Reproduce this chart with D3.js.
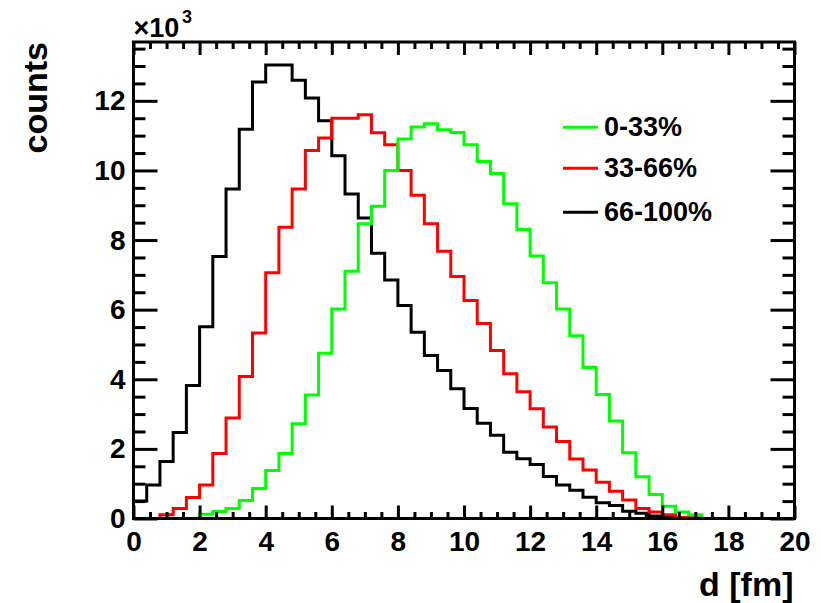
<!DOCTYPE html>
<html>
<head>
<meta charset="utf-8">
<script src="https://cdn.jsdelivr.net/npm/d3@7"></script>
<style>
  body { margin: 0; background: #fff; }
  text { font-family: "Liberation Sans", Arial, Helvetica, sans-serif; font-weight: bold; fill: #000; }
</style>
</head>
<body>
<div class="chart"></div>
<script>
/* bin layout: 50 bins of 0.4 fm from 0 to 20 */
const binWidth = 0.4;

/* counts per bin, in thousands */
const central = [ // 0-33%
  0, 0, 0, 0, 0, 0.12, 0.20, 0.29, 0.52, 0.86,
  1.38, 1.87, 2.72, 3.55, 4.75, 6.02, 7.10, 8.47, 8.97, 10.00,
  10.90, 11.25, 11.34, 11.17, 11.09, 10.74, 10.26, 9.91, 9.04, 8.30,
  7.54, 6.77, 6.02, 5.25, 4.34, 3.56, 2.80, 1.89, 1.20, 0.69,
  0.35, 0.19, 0.11, 0, 0, 0, 0, 0, 0, 0
];
const midCentral = [ // 33-66%
  0, 0, 0.11, 0.29, 0.60, 0.96, 1.87, 2.89, 4.08, 5.33,
  7.06, 8.37, 9.47, 10.57, 10.93, 11.50, 11.50, 11.60, 11.08, 10.74,
  10.00, 9.29, 8.47, 7.68, 6.95, 6.26, 5.60, 4.83, 4.16, 3.64,
  3.15, 2.63, 2.21, 1.71, 1.39, 1.04, 0.78, 0.53, 0.29, 0.19,
  0.11, 0.03, 0.02, 0, 0, 0, 0, 0, 0, 0
];
const peripheral = [ // 66-100%
  0.50, 0.96, 1.64, 2.47, 3.82, 5.51, 7.53, 9.47, 11.18, 12.54,
  13.03, 13.03, 12.59, 12.08, 11.43, 10.42, 9.32, 8.63, 7.62, 6.85,
  6.12, 5.35, 4.68, 4.25, 3.73, 3.16, 2.74, 2.39, 1.90, 1.72,
  1.55, 1.21, 0.96, 0.81, 0.61, 0.45, 0.37, 0.21, 0.15, 0.07,
  0.03, 0.01, 0, 0, 0, 0, 0, 0, 0, 0
];

const seriesNames = ["0-33%", "33-66%", "66-100%"];
const seriesColors = ["#00ff00", "#ff0000", "#000000"];
const xTicks = [0, 2, 4, 6, 8, 10, 12, 14, 16, 18, 20];
const yTicks = [0, 2, 4, 6, 8, 10, 12];

/* svg setup */
const width = 821;
const height = 603;
const margin = {top: 42, right: 26.5, bottom: 84.5, left: 133.5};

const svg = d3.select(".chart").append("svg")
  .attr("width", width)
  .attr("height", height);

const x = d3.scaleLinear()
  .domain([0, 20])
  .range([margin.left, width - margin.right]);

const y = d3.scaleLinear()
  .domain([0, 13.69])
  .range([height - margin.bottom, margin.top]);

/* histograms: black first, green on top */
const stepLine = d3.line()
  .x(d => x(d[0]))
  .y(d => y(d[1]))
  .curve(d3.curveStepAfter);

function outline(values) {
  const pts = [[0, 0]];
  values.forEach((v, i) => pts.push([i * binWidth, v]));
  pts.push([values.length * binWidth, 0]);
  return pts;
}

const hists = [central, midCentral, peripheral];
[2, 1, 0].forEach(k => {
  svg.append("path")
    .datum(outline(hists[k]))
    .attr("d", stepLine)
    .attr("fill", "none")
    .attr("stroke", seriesColors[k])
    .attr("stroke-width", 3);
});

/* ticks on all four sides, pointing inward */
const xMinor = d3.range(0, 20.01, 0.5).filter(v => v % 2 !== 0);
const yMinor = d3.range(0, 13.6, 0.5).filter(v => v % 2 !== 0);
const bottomY = height - margin.bottom;
const rightX = width - margin.right;

function drawAxis(axis, tx, ty) {
  const g = svg.append("g")
    .attr("transform", `translate(${tx},${ty})`)
    .call(axis);
  g.select(".domain").remove();
  g.selectAll("line").attr("stroke", "#000").attr("stroke-width", 3);
  return g;
}

const xLabels = drawAxis(d3.axisBottom(x).tickValues(xTicks).tickSize(-13).tickSizeOuter(0).tickPadding(13), 0, bottomY);
drawAxis(d3.axisBottom(x).tickValues(xMinor).tickSize(-6.5).tickFormat(""), 0, bottomY);
drawAxis(d3.axisTop(x).tickValues(xTicks).tickSize(-13).tickFormat(""), 0, margin.top);
drawAxis(d3.axisTop(x).tickValues(xMinor).tickSize(-7).tickFormat(""), 0, margin.top);

const yLabels = drawAxis(d3.axisLeft(y).tickValues(yTicks).tickSize(-24).tickPadding(8), margin.left, 0);
drawAxis(d3.axisLeft(y).tickValues(yMinor).tickSize(-12).tickFormat(""), margin.left, 0);
drawAxis(d3.axisRight(y).tickValues(yTicks).tickSize(-24).tickFormat(""), rightX, 0);
drawAxis(d3.axisRight(y).tickValues(yMinor).tickSize(-12).tickFormat(""), rightX, 0);

[xLabels, yLabels].forEach(g => g.selectAll("text")
  .attr("font-size", 28)
  .attr("font-family", "'Liberation Sans', Arial, sans-serif")
  .attr("font-weight", "bold")
  .attr("fill", "#000"));

/* frame */
svg.append("rect")
  .attr("x", margin.left)
  .attr("y", margin.top)
  .attr("width", rightX - margin.left)
  .attr("height", bottomY - margin.top)
  .attr("fill", "none")
  .attr("stroke", "#000")
  .attr("stroke-width", 3);

/* axis titles */
svg.append("text")
  .attr("x", rightX - 1)
  .attr("y", 596)
  .attr("text-anchor", "end")
  .attr("font-size", 34)
  .text("d [fm]");

svg.append("text")
  .attr("transform", `translate(47,${margin.top}) rotate(-90)`)
  .attr("text-anchor", "end")
  .attr("font-size", 34)
  .text("counts");

/* exponent label */
svg.append("text")
  .attr("x", margin.left)
  .attr("y", 37)
  .attr("font-size", 27)
  .text("\u00d710");
svg.append("text")
  .attr("x", 182)
  .attr("y", 23)
  .attr("font-size", 18)
  .text("3");

/* legend */
const legendY = [127.3, 168.3, 212.3];
seriesNames.forEach((name, i) => {
  svg.append("line")
    .attr("x1", 563).attr("x2", 598)
    .attr("y1", legendY[i]).attr("y2", legendY[i])
    .attr("stroke", seriesColors[i])
    .attr("stroke-width", 3);
  svg.append("text")
    .attr("x", 604)
    .attr("y", legendY[i] - 1.5)
    .attr("dy", "0.36em")
    .attr("font-size", 27)
    .text(name);
});
</script>
</body>
</html>
